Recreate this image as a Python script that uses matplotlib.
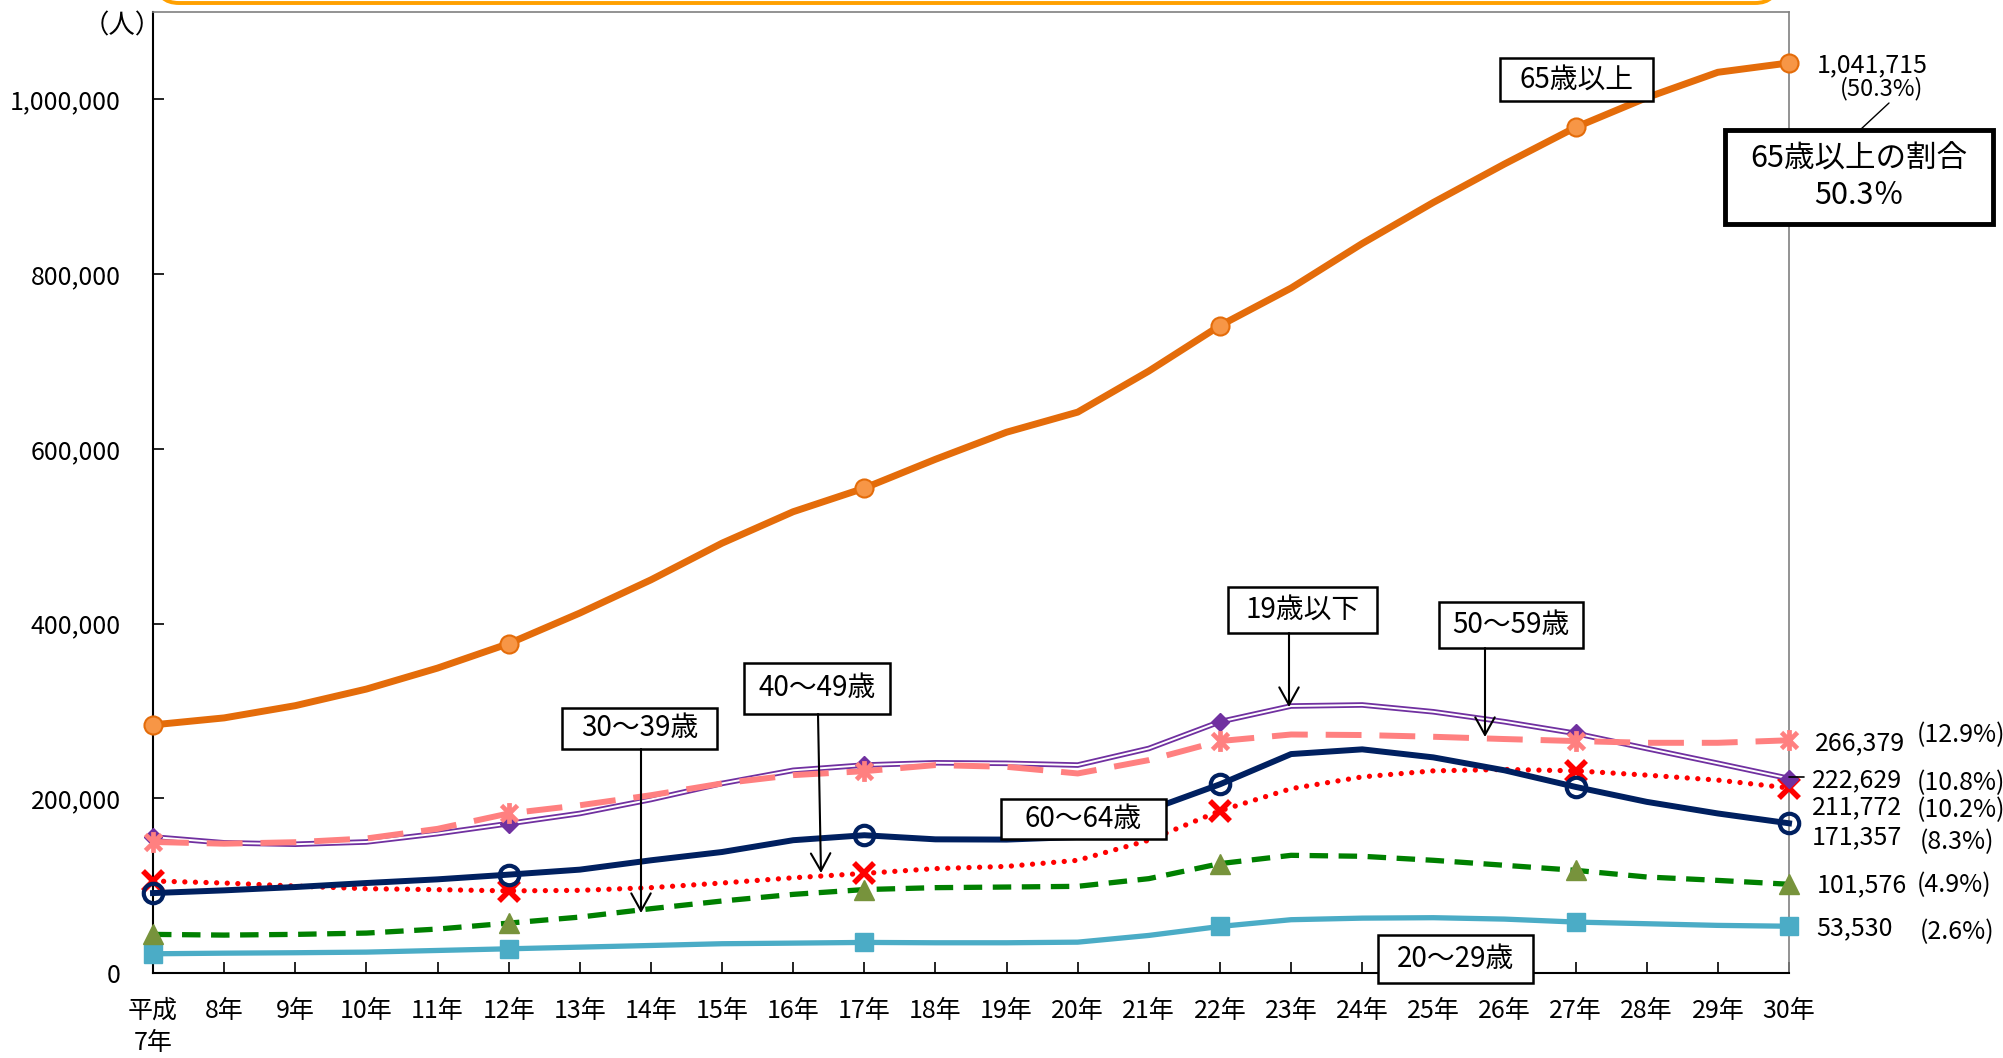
import matplotlib
matplotlib.use('Agg')
import matplotlib.pyplot as plt
from matplotlib.patches import Rectangle, FancyBboxPatch
from matplotlib.path import Path
from matplotlib.transforms import IdentityTransform
import matplotlib.ticker as mticker

plt.rcParams['font.family'] = ['Noto Sans CJK JP', 'DejaVu Sans']

# ---------------- data ----------------
years = list(range(7, 31))
xtick_labels = ['平成\n7年'] + [f'{y}年' for y in range(8, 31)]
yticks = [0, 200000, 400000, 600000, 800000, 1000000]

age65_over = [284000, 292000, 306000, 325000, 349000, 377000, 412000, 450000, 492000, 528000,
              555000, 588000, 619000, 642000, 689000, 741000, 784000, 835000, 882000, 926000,
              968000, 1002000, 1031000, 1041715]
age19_under = [155700, 149000, 147400, 150000, 159600, 171000, 182600, 198600, 217000, 232000,
               238000, 240600, 240000, 238000, 257000, 287600, 305600, 306800, 299000, 287600,
               274300, 257000, 240000, 222629]
age50_59 = [150000, 148000, 149700, 154000, 165000, 182600, 192000, 203500, 217000, 226500,
            231000, 238000, 236000, 228400, 243700, 265500, 273000, 272400, 270400, 267800,
            265500, 263500, 263500, 266379]
age60_64 = [91500, 94600, 98400, 103000, 107200, 112600, 118300, 129000, 138500, 152000,
            157700, 153000, 152700, 155700, 186400, 216000, 250600, 256000, 246800, 232000,
            213000, 195900, 182600, 171357]
age40_49 = [105300, 103000, 99500, 96500, 95400, 94000, 94600, 97700, 103000, 109000,
            114000, 119500, 122000, 129000, 152000, 185600, 211000, 224500, 231400, 233000,
            231400, 226500, 220800, 211772]
age30_39 = [44200, 43400, 44200, 45700, 50300, 57100, 64000, 73600, 82400, 90000,
            95500, 97700, 98400, 99200, 108000, 125200, 134700, 133600, 129000, 123300,
            117500, 109900, 106000, 101576]
age20_29 = [22000, 22700, 23200, 23900, 25800, 27700, 29600, 31500, 33500, 34200,
            35000, 34600, 34600, 35300, 43000, 53300, 61000, 62800, 63300, 61700,
            58300, 56400, 54500, 53530]

end_pcts = ['(12.9%)', '(10.8%)', '(10.2%)', '(8.3%)', '(4.9%)', '(2.6%)']
pct65 = '(50.3%)'
ratio_text = '65歳以上の割合\n50.3％'

mark_idx = [0, 5, 10, 15, 20, 23]

# ---------------- figure ----------------
W, H = 2003, 1058
fig = plt.figure(figsize=(W / 100, H / 100), dpi=100)
AX_L, AX_R, AX_T, AX_B = 153, 1789, 12, 973
ax = fig.add_axes([AX_L / W, 1 - AX_B / H, (AX_R - AX_L) / W, (AX_B - AX_T) / H])


def af(x, y):
    """pixel position in image -> axes fraction"""
    return ((x - AX_L) / (AX_R - AX_L), (AX_B - y) / (AX_B - AX_T))


# orange rounded frame (title box cut at top)
fig.add_artist(FancyBboxPatch((157, H - 3), 1777 - 157, 120,
                              boxstyle='round,pad=0,rounding_size=22',
                              transform=IdentityTransform(), facecolor='white',
                              edgecolor='#FFA000', lw=2.8, zorder=0))

# star marker (x + vertical)
star = Path([(-1, -1), (1, 1), (-1, 1), (1, -1), (0, -1.3), (0, 1.3)],
            [Path.MOVETO, Path.LINETO, Path.MOVETO, Path.LINETO, Path.MOVETO, Path.LINETO])

# 20-29
ax.plot(years, age20_29, color='#4BACC6', lw=3.8, marker='s', markersize=13,
        markevery=mark_idx, markerfacecolor='#4BACC6', markeredgecolor='#4BACC6',
        clip_on=False, zorder=3)
# 30-39
ax.plot(years, age30_39, color='#008000', lw=3.8, ls=(0, (3.5, 2.0)), zorder=3, clip_on=False)
ax.plot([years[i] for i in mark_idx], [age30_39[i] for i in mark_idx], ls='none',
        marker='^', markersize=15, markerfacecolor='#77933C', markeredgecolor='#77933C',
        clip_on=False, zorder=4)
# 40-49
ax.plot(years, age40_49, color='#FF0000', lw=3.8, ls=(0, (0.01, 2.0)),
        dash_capstyle='round', zorder=4, clip_on=False)
ax.plot([years[i] for i in mark_idx], [age40_49[i] for i in mark_idx], ls='none',
        marker='x', markersize=14, markeredgewidth=4, markeredgecolor='#FF0000',
        clip_on=False, zorder=5)
# 60-64
ax.plot(years, age60_64, color='#002060', lw=4.3, marker='o', markersize=14,
        markevery=mark_idx, markerfacecolor='none', markeredgecolor='#002060',
        markeredgewidth=3, clip_on=False, zorder=5)
# 19 and under (double line)
ax.plot(years, age19_under, color='#7030A0', lw=4.0, clip_on=False, zorder=6,
        solid_joinstyle='miter')
ax.plot(years, age19_under, color='white', lw=1.4, clip_on=False, zorder=6.1,
        solid_joinstyle='miter')
ax.plot([years[i] for i in mark_idx], [age19_under[i] for i in mark_idx], ls='none',
        marker='D', markersize=9, markerfacecolor='#7030A0', markeredgecolor='#7030A0',
        clip_on=False, zorder=6.2)
# 50-59
ax.plot(years, age50_59, color='#FF8080', lw=4.3, ls=(0, (6, 3)), zorder=7, clip_on=False)
ax.plot([years[i] for i in mark_idx], [age50_59[i] for i in mark_idx], ls='none',
        marker=star, markersize=15, markeredgewidth=3.4, markeredgecolor='#FF8080',
        markerfacecolor='none', clip_on=False, zorder=7.1)
# 65 and over
ax.plot(years, age65_over, color='#E46C0A', lw=5, marker='o', markersize=13,
        markevery=mark_idx, markerfacecolor='#F79646', markeredgecolor='#E46C0A',
        markeredgewidth=1.5, clip_on=False, zorder=8)

# ---------------- axes styling ----------------
ax.set_xlim(7, 30)
ax.set_ylim(0, 1100000)
ax.set_xticks(years)
ax.set_xticklabels(xtick_labels)
ax.set_yticks(yticks)
ax.yaxis.set_major_formatter(mticker.FuncFormatter(lambda v, p: f'{int(v):,}'))
ax.tick_params(axis='y', direction='in', length=8, width=1.2, labelsize=18, pad=23)
ax.tick_params(axis='x', direction='in', length=8, width=1.2, labelsize=18, pad=18)
lab0 = ax.get_xticklabels()[0]
lab0.set_linespacing(1.3)
for s in ['left', 'bottom']:
    ax.spines[s].set_color('black')
    ax.spines[s].set_linewidth(1.5)
for s in ['top', 'right']:
    ax.spines[s].set_color('#808080')
    ax.spines[s].set_linewidth(1.2)

fig.text(122 / W, 1 - 26 / H, '（人）', fontsize=19, ha='center', va='center')

# ---------------- annotation boxes ----------------
def box(x0, y0, x1, y1, text, fs=20, lw=1.8, z=10):
    (fx0, fy1) = af(x0, y0)
    (fx1, fy0) = af(x1, y1)
    ax.add_patch(Rectangle((fx0, fy0), fx1 - fx0, fy1 - fy0, transform=ax.transAxes,
                           facecolor='white', edgecolor='black', lw=lw, clip_on=False,
                           zorder=z))
    ax.text((fx0 + fx1) / 2, (fy0 + fy1) / 2, text, transform=ax.transAxes, fontsize=fs,
            ha='center', va='center', zorder=z + 0.1, clip_on=False, linespacing=1.25)


def arrow(x0, y0, x1, y1):
    ax.annotate('', xy=af(x1, y1), xytext=af(x0, y0), xycoords='axes fraction',
                textcoords='axes fraction',
                arrowprops=dict(arrowstyle='->,head_length=0.45,head_width=0.25',
                                mutation_scale=28, lw=1.5, color='black',
                                shrinkA=0, shrinkB=0), zorder=11)


box(1500, 58, 1653, 101, '65歳以上', fs=20)
box(1228, 587, 1377, 633, '19歳以下', fs=20)
arrow(1289, 633, 1289, 707)
box(1439, 602, 1583, 648, '50～59歳', fs=20)
arrow(1485, 648, 1485, 737)
box(744, 663, 890, 714, '40～49歳', fs=20)
arrow(818, 714, 821, 873)
box(562, 708, 717, 749, '30～39歳', fs=20)
arrow(641, 749, 641, 913)
box(1001, 799, 1166, 839, '60～64歳', fs=20)
box(1378, 935, 1533, 983, '20～29歳', fs=20)

# ratio box
ax.annotate('', xy=af(1889, 103), xytext=af(1860, 130), xycoords='axes fraction',
            textcoords='axes fraction',
            arrowprops=dict(arrowstyle='-', lw=1, color='black', shrinkA=0, shrinkB=0),
            zorder=11)
box(1725, 130, 1993, 224, ratio_text, fs=22, lw=3.5)

# ---------------- right-side value labels ----------------
def rtext(x, y, s, fs=18, ha='left'):
    ax.text(*af(x, y), s, transform=ax.transAxes, fontsize=fs, ha=ha, va='center',
            clip_on=False, zorder=12)


rtext(1872, 65, f'{age65_over[-1]:,}', ha='center')
rtext(1882, 89, pct65, fs=17, ha='center')

end_vals = [age50_59[-1], age19_under[-1], age40_49[-1], age60_64[-1], age30_39[-1], age20_29[-1]]
num_pos = [(1815, 743), (1812, 780), (1812, 807), (1812, 837), (1817, 885), (1816, 928)]
pct_pos = [(1917, 735), (1917, 783), (1917, 810), (1920, 842), (1917, 885), (1920, 932)]
for v, (x, y) in zip(end_vals, num_pos):
    rtext(x, y, f'{v:,}')
for p, (x, y) in zip(end_pcts, pct_pos):
    rtext(x, y, p)

# small leader for 19歳以下 end value
ax.annotate('', xy=af(1804, 777), xytext=af(1789, 777), xycoords='axes fraction',
            textcoords='axes fraction',
            arrowprops=dict(arrowstyle='-', lw=1.2, color='black', shrinkA=0, shrinkB=0),
            zorder=11)

fig.savefig('out.png', dpi=100)
